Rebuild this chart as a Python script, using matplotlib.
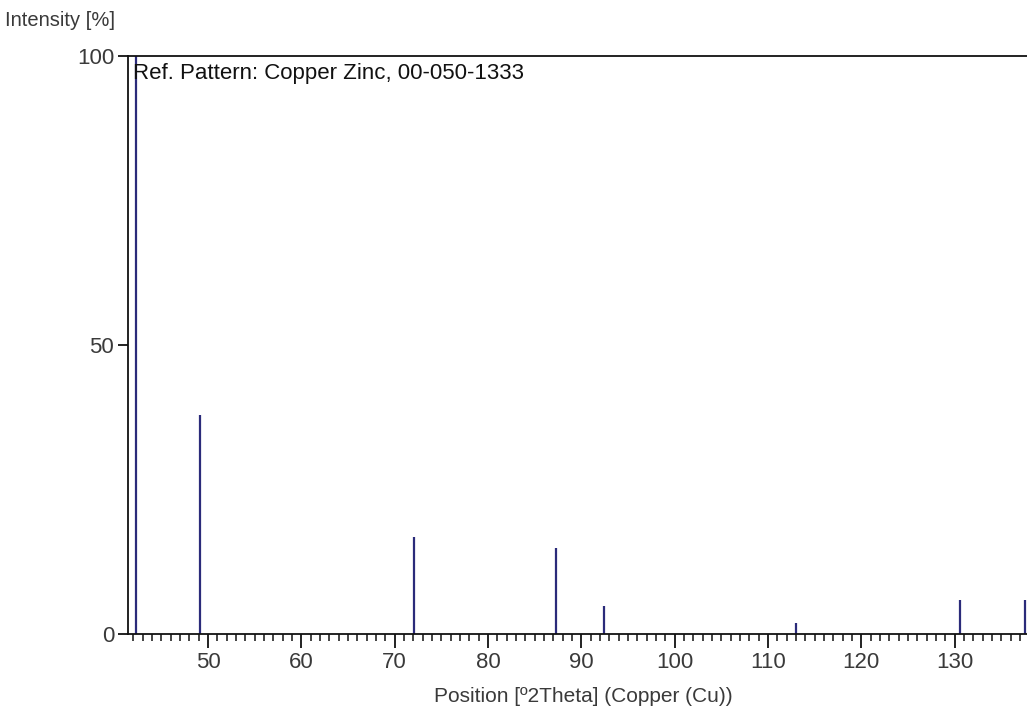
import matplotlib
matplotlib.use("Agg")
import matplotlib.pyplot as plt
from matplotlib.ticker import MultipleLocator

# Reference pattern peaks: Copper Zinc, 00-050-1333
positions = [42.29, 49.14, 72.06, 87.33, 92.45, 113.0, 130.6, 137.5]
intensities = [100.0, 37.9, 16.8, 14.9, 4.9, 1.9, 5.9, 5.9]

x_min, x_max = 41.43, 137.75
x_ticks = [50, 60, 70, 80, 90, 100, 110, 120, 130]
y_ticks = [0, 50, 100]

font = ["Liberation Sans Narrow", "Liberation Sans", "DejaVu Sans"]
text_color = "#3a3a3a"
peak_color = "#2b2b7a"

fig = plt.figure(figsize=(10.27, 7.2), dpi=100)
ax = fig.add_axes([128 / 1027, 1 - 634 / 720, 1 - 128 / 1027, (634 - 56) / 720])

ax.vlines(positions, 0, intensities, colors=peak_color, linewidth=1.6, clip_on=False)

ax.set_xlim(x_min, x_max)
ax.set_ylim(0, 100)
ax.set_xticks(x_ticks)
ax.xaxis.set_minor_locator(MultipleLocator(1))
ax.set_yticks(y_ticks)

for s in ("top", "left", "bottom"):
    ax.spines[s].set_linewidth(1.3)
    ax.spines[s].set_color("#111111")
ax.spines["right"].set_visible(False)

ax.tick_params(axis="x", which="major", direction="out", length=10, width=1.3,
               color="#111111", labelsize=16, labelcolor=text_color, pad=3)
ax.tick_params(axis="x", which="minor", direction="out", length=5, width=1.1,
               color="#111111")
ax.tick_params(axis="y", which="major", direction="out", length=7, width=1.3,
               color="#111111", labelsize=16, labelcolor=text_color, pad=3)
for lab in ax.get_xticklabels() + ax.get_yticklabels():
    lab.set_family(font)

ax.text(0.006, 0.988, "Ref. Pattern: Copper Zinc, 00-050-1333", transform=ax.transAxes,
        ha="left", va="top", fontsize=16, color="#111111", family=font)

fig.text(5 / 1027, 1 - 21 / 720, "Intensity [%]", ha="left", va="center",
         fontsize=14.5, color=text_color, family=font)
ax.set_xlabel("Position [º2Theta] (Copper (Cu))", fontsize=15, color=text_color,
              family=font, labelpad=2)
ax.xaxis.set_label_coords((583 - 128) / (1027 - 128), -0.092)

fig.savefig("out.png", dpi=100, facecolor="white")
